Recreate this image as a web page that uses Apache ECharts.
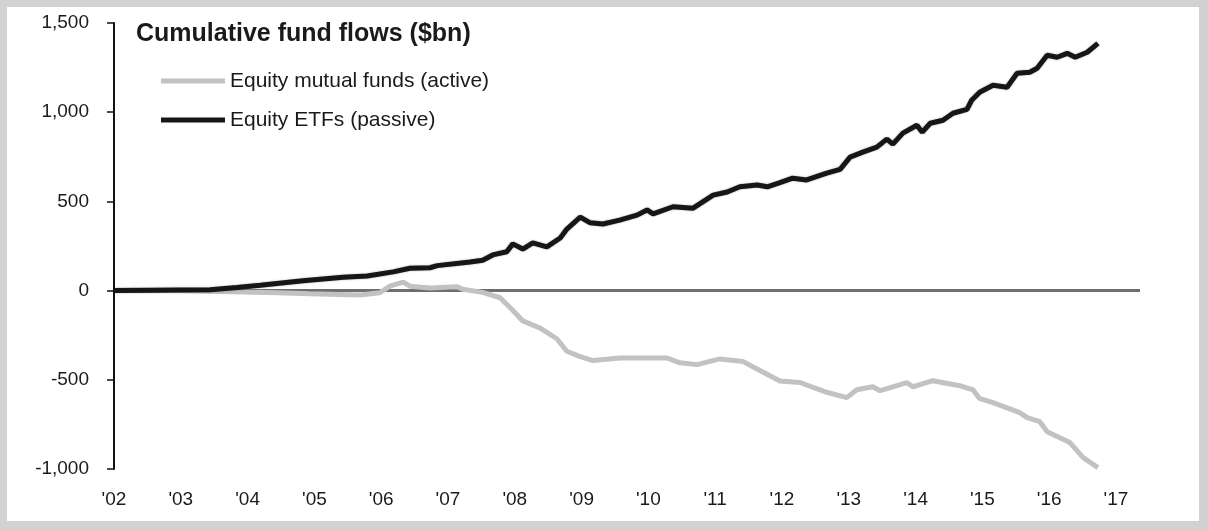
<!DOCTYPE html>
<html>
<head>
<meta charset="utf-8">
<script src="https://cdn.jsdelivr.net/npm/echarts@6/dist/echarts.min.js"></script>
<style>
  html, body { margin: 0; padding: 0; background: #fff; }
  #main { position: absolute; left: 0; top: 0; width: 1208px; height: 530px; }
  #frame {
    position: absolute; left: 0; top: 0; width: 1208px; height: 530px;
    box-sizing: border-box; border-style: solid; border-color: #d2d2d2;
    border-width: 7px 9px 9px 7px; pointer-events: none;
  }
</style>
</head>
<body>
<div id="main"></div>
<div id="frame"></div>
<script>
// chart data (decimal years, $bn)
var etfYears = [2002.00, 2002.54, 2003.44, 2003.84, 2004.19, 2004.83, 2005.43, 2005.79, 2006.18, 2006.43,
  2006.73, 2006.84, 2007.33, 2007.52, 2007.67, 2007.88, 2007.97, 2008.12, 2008.27, 2008.48,
  2008.68, 2008.78, 2008.98, 2009.13, 2009.32, 2009.57, 2009.83, 2009.98, 2010.07, 2010.37,
  2010.67, 2010.97, 2011.18, 2011.37, 2011.63, 2011.78, 2011.97, 2012.16, 2012.37, 2012.67,
  2012.87, 2013.02, 2013.21, 2013.42, 2013.57, 2013.66, 2013.81, 2014.02, 2014.10, 2014.22,
  2014.41, 2014.56, 2014.77, 2014.84, 2014.96, 2015.16, 2015.37, 2015.52, 2015.71, 2015.82,
  2015.97, 2016.12, 2016.27, 2016.39, 2016.57, 2016.73];
var etfValues = [0, 2, 5, 18, 30, 55, 75, 82, 105, 125,
  128, 140, 160, 170, 200, 218, 262, 233, 267, 245,
  295, 345, 412, 380, 373, 395, 423, 452, 430, 470,
  462, 535, 553, 582, 592, 582, 605, 630, 620, 658,
  680, 748, 776, 804, 849, 821, 883, 927, 888, 938,
  955, 994, 1016, 1067, 1112, 1151, 1140, 1218, 1224, 1246,
  1319, 1308, 1330, 1308, 1336, 1386];

var activeYears = [2002.00, 2002.94, 2003.59, 2004.44, 2004.93, 2005.68, 2005.98, 2006.13, 2006.33, 2006.43,
  2006.73, 2007.13, 2007.22, 2007.52, 2007.78, 2007.97, 2008.12, 2008.38, 2008.63, 2008.78,
  2008.98, 2009.17, 2009.57, 2010.28, 2010.47, 2010.73, 2011.07, 2011.42, 2011.67, 2011.97,
  2012.27, 2012.67, 2012.97, 2013.12, 2013.36, 2013.47, 2013.87, 2013.96, 2014.26, 2014.66,
  2014.86, 2014.96, 2015.16, 2015.56, 2015.67, 2015.86, 2015.97, 2016.31, 2016.51, 2016.73];
var activeValues = [0, 0, -5, -12, -18, -25, -12, 25, 48, 25,
  15, 22, 8, -10, -40, -110, -170, -210, -270, -340,
  -370, -392, -378, -378, -405, -415, -383, -398, -448, -507,
  -515, -570, -600, -556, -539, -561, -516, -539, -505, -533,
  -556, -606, -628, -684, -712, -735, -791, -852, -936, -992];

var seriesNames = ['Equity mutual funds (active)', 'Equity ETFs (passive)'];
var yTicks = [-1000, -500, 0, 500, 1000, 1500];

function pairs(xs, ys) {
  return xs.map(function (x, i) { return [x, ys[i]]; });
}

var chart = echarts.init(document.getElementById('main'), null, { renderer: 'canvas' });
var font = "'Liberation Sans', Arial, sans-serif";

var option = {
  backgroundColor: '#ffffff',
  animation: false,
  title: {
    text: 'Cumulative fund flows ($bn)',
    left: 136,
    top: 22,
    padding: 0,
    textStyle: { fontFamily: font, fontSize: 25, fontWeight: 'bold', color: '#1a1a1a' }
  },
  legend: {
    orient: 'vertical',
    left: 161,
    top: 70,
    padding: 0,
    itemGap: 17,
    itemWidth: 64,
    itemHeight: 5,
    icon: 'rect',
    data: seriesNames,
    textStyle: { fontFamily: font, fontSize: 21, color: '#1a1a1a', lineHeight: 22 }
  },
  grid: { left: 114, right: 68, top: 23, bottom: 61, containLabel: false },
  xAxis: {
    type: 'value',
    min: 2002,
    max: 2017.36,
    interval: 1,
    axisLine: { show: false },
    axisTick: { show: false },
    splitLine: { show: false },
    axisLabel: {
      margin: 21,
      fontFamily: font,
      fontSize: 19,
      color: '#1a1a1a',
      formatter: function (v) {
        if (Math.abs(v - Math.round(v)) > 1e-6) return '';
        return "'" + String(Math.round(v)).slice(2);
      }
    }
  },
  yAxis: {
    type: 'value',
    min: yTicks[0],
    max: yTicks[yTicks.length - 1],
    interval: 500,
    axisLine: { show: true, lineStyle: { color: '#111', width: 2 } },
    axisTick: { show: true, length: 7, lineStyle: { color: '#111', width: 1.5 } },
    splitLine: { show: false },
    axisLabel: {
      margin: 25,
      fontFamily: font,
      fontSize: 19,
      color: '#1a1a1a',
      formatter: function (v) { return v.toLocaleString('en-US'); }
    }
  },
  series: [
    {
      name: seriesNames[0],
      type: 'line',
      data: pairs(activeYears, activeValues),
      showSymbol: false,
      symbol: 'none',
      itemStyle: { color: '#c2c2c2' },
      lineStyle: { color: '#c2c2c2', width: 5 },
      z: 2
    },
    {
      name: seriesNames[1],
      type: 'line',
      data: pairs(etfYears, etfValues),
      showSymbol: false,
      symbol: 'none',
      itemStyle: { color: '#161616' },
      lineStyle: { color: '#161616', width: 5, shadowColor: 'rgba(0,0,0,0.35)', shadowBlur: 2 },
      z: 3,
      markLine: {
        silent: true,
        symbol: 'none',
        label: { show: false },
        lineStyle: { color: '#6e6e6e', width: 3, type: 'solid' },
        data: [{ yAxis: 0 }],
        z: 1
      }
    }
  ]
};
chart.setOption(option);
</script>
</body>
</html>
